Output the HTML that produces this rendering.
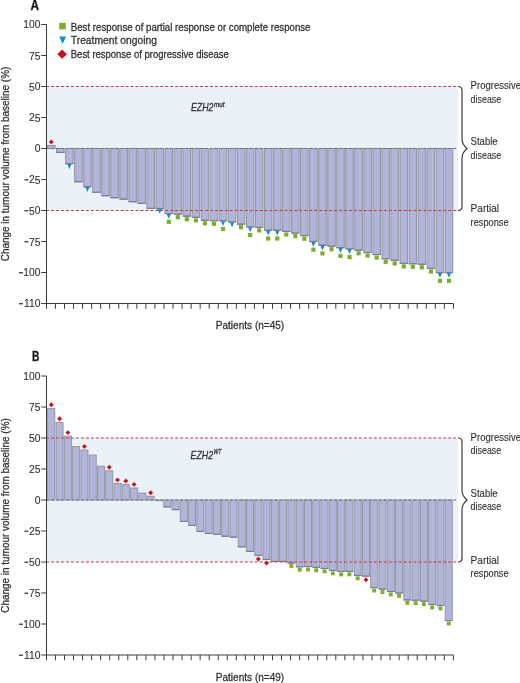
<!DOCTYPE html><html><head><meta charset="utf-8"><style>html,body{margin:0;padding:0;background:#fff;}svg{display:block;will-change:transform;} text{stroke:#303030;stroke-width:0.28px;} .nb{stroke:none;} .tk text{stroke-width:0.1px;}</style></head><body>
<svg width="520" height="683" viewBox="0 0 520 683" font-family='"Liberation Sans", sans-serif'>
<rect width="520" height="683" fill="#fff"/>
<rect x="47" y="86.5" width="410.8" height="124.0" fill="#eaf1f9"/>
<rect x="47.55" y="145.50" width="7.50" height="3.00" fill="#b1b5dc" stroke="#96969c" stroke-width="1.1"/>
<rect x="56.59" y="148.50" width="7.50" height="4.00" fill="#b1b5dc" stroke="#96969c" stroke-width="1.1"/>
<line x1="56.44" y1="152.40" x2="64.24" y2="152.40" stroke="#787b94" stroke-width="1.1"/>
<rect x="65.63" y="148.50" width="7.50" height="15.20" fill="#b1b5dc" stroke="#96969c" stroke-width="1.1"/>
<line x1="65.48" y1="163.60" x2="73.28" y2="163.60" stroke="#787b94" stroke-width="1.1"/>
<rect x="74.66" y="148.50" width="7.50" height="33.30" fill="#b1b5dc" stroke="#96969c" stroke-width="1.1"/>
<line x1="74.51" y1="181.70" x2="82.31" y2="181.70" stroke="#787b94" stroke-width="1.1"/>
<rect x="83.70" y="148.50" width="7.50" height="38.20" fill="#b1b5dc" stroke="#96969c" stroke-width="1.1"/>
<line x1="83.55" y1="186.60" x2="91.35" y2="186.60" stroke="#787b94" stroke-width="1.1"/>
<rect x="92.74" y="148.50" width="7.50" height="43.90" fill="#b1b5dc" stroke="#96969c" stroke-width="1.1"/>
<line x1="92.59" y1="192.30" x2="100.39" y2="192.30" stroke="#787b94" stroke-width="1.1"/>
<rect x="101.78" y="148.50" width="7.50" height="47.30" fill="#b1b5dc" stroke="#96969c" stroke-width="1.1"/>
<line x1="101.63" y1="195.70" x2="109.43" y2="195.70" stroke="#787b94" stroke-width="1.1"/>
<rect x="110.82" y="148.50" width="7.50" height="49.30" fill="#b1b5dc" stroke="#96969c" stroke-width="1.1"/>
<line x1="110.67" y1="197.70" x2="118.47" y2="197.70" stroke="#787b94" stroke-width="1.1"/>
<rect x="119.85" y="148.50" width="7.50" height="50.70" fill="#b1b5dc" stroke="#96969c" stroke-width="1.1"/>
<line x1="119.70" y1="199.10" x2="127.50" y2="199.10" stroke="#787b94" stroke-width="1.1"/>
<rect x="128.89" y="148.50" width="7.50" height="53.30" fill="#b1b5dc" stroke="#96969c" stroke-width="1.1"/>
<line x1="128.74" y1="201.70" x2="136.54" y2="201.70" stroke="#787b94" stroke-width="1.1"/>
<rect x="137.93" y="148.50" width="7.50" height="55.00" fill="#b1b5dc" stroke="#96969c" stroke-width="1.1"/>
<line x1="137.78" y1="203.40" x2="145.58" y2="203.40" stroke="#787b94" stroke-width="1.1"/>
<rect x="146.97" y="148.50" width="7.50" height="59.90" fill="#b1b5dc" stroke="#96969c" stroke-width="1.1"/>
<line x1="146.82" y1="208.30" x2="154.62" y2="208.30" stroke="#787b94" stroke-width="1.1"/>
<rect x="156.01" y="148.50" width="7.50" height="60.10" fill="#b1b5dc" stroke="#96969c" stroke-width="1.1"/>
<line x1="155.86" y1="208.50" x2="163.66" y2="208.50" stroke="#787b94" stroke-width="1.1"/>
<rect x="165.04" y="148.50" width="7.50" height="65.10" fill="#b1b5dc" stroke="#96969c" stroke-width="1.1"/>
<line x1="164.89" y1="213.50" x2="172.69" y2="213.50" stroke="#787b94" stroke-width="1.1"/>
<rect x="174.08" y="148.50" width="7.50" height="65.70" fill="#b1b5dc" stroke="#96969c" stroke-width="1.1"/>
<line x1="173.93" y1="214.10" x2="181.73" y2="214.10" stroke="#787b94" stroke-width="1.1"/>
<rect x="183.12" y="148.50" width="7.50" height="67.70" fill="#b1b5dc" stroke="#96969c" stroke-width="1.1"/>
<line x1="182.97" y1="216.10" x2="190.77" y2="216.10" stroke="#787b94" stroke-width="1.1"/>
<rect x="192.16" y="148.50" width="7.50" height="68.90" fill="#b1b5dc" stroke="#96969c" stroke-width="1.1"/>
<line x1="192.01" y1="217.30" x2="199.81" y2="217.30" stroke="#787b94" stroke-width="1.1"/>
<rect x="201.20" y="148.50" width="7.50" height="71.80" fill="#b1b5dc" stroke="#96969c" stroke-width="1.1"/>
<line x1="201.05" y1="220.20" x2="208.85" y2="220.20" stroke="#787b94" stroke-width="1.1"/>
<rect x="210.23" y="148.50" width="7.50" height="72.30" fill="#b1b5dc" stroke="#96969c" stroke-width="1.1"/>
<line x1="210.08" y1="220.70" x2="217.88" y2="220.70" stroke="#787b94" stroke-width="1.1"/>
<rect x="219.27" y="148.50" width="7.50" height="72.30" fill="#b1b5dc" stroke="#96969c" stroke-width="1.1"/>
<line x1="219.12" y1="220.70" x2="226.92" y2="220.70" stroke="#787b94" stroke-width="1.1"/>
<rect x="228.31" y="148.50" width="7.50" height="73.50" fill="#b1b5dc" stroke="#96969c" stroke-width="1.1"/>
<line x1="228.16" y1="221.90" x2="235.96" y2="221.90" stroke="#787b94" stroke-width="1.1"/>
<rect x="237.35" y="148.50" width="7.50" height="75.70" fill="#b1b5dc" stroke="#96969c" stroke-width="1.1"/>
<line x1="237.20" y1="224.10" x2="245.00" y2="224.10" stroke="#787b94" stroke-width="1.1"/>
<rect x="246.39" y="148.50" width="7.50" height="78.40" fill="#b1b5dc" stroke="#96969c" stroke-width="1.1"/>
<line x1="246.24" y1="226.80" x2="254.04" y2="226.80" stroke="#787b94" stroke-width="1.1"/>
<rect x="255.42" y="148.50" width="7.50" height="78.90" fill="#b1b5dc" stroke="#96969c" stroke-width="1.1"/>
<line x1="255.27" y1="227.30" x2="263.07" y2="227.30" stroke="#787b94" stroke-width="1.1"/>
<rect x="264.46" y="148.50" width="7.50" height="81.80" fill="#b1b5dc" stroke="#96969c" stroke-width="1.1"/>
<line x1="264.31" y1="230.20" x2="272.11" y2="230.20" stroke="#787b94" stroke-width="1.1"/>
<rect x="273.50" y="148.50" width="7.50" height="81.80" fill="#b1b5dc" stroke="#96969c" stroke-width="1.1"/>
<line x1="273.35" y1="230.20" x2="281.15" y2="230.20" stroke="#787b94" stroke-width="1.1"/>
<rect x="282.54" y="148.50" width="7.50" height="83.00" fill="#b1b5dc" stroke="#96969c" stroke-width="1.1"/>
<line x1="282.39" y1="231.40" x2="290.19" y2="231.40" stroke="#787b94" stroke-width="1.1"/>
<rect x="291.58" y="148.50" width="7.50" height="84.60" fill="#b1b5dc" stroke="#96969c" stroke-width="1.1"/>
<line x1="291.43" y1="233.00" x2="299.23" y2="233.00" stroke="#787b94" stroke-width="1.1"/>
<rect x="300.61" y="148.50" width="7.50" height="87.20" fill="#b1b5dc" stroke="#96969c" stroke-width="1.1"/>
<line x1="300.46" y1="235.60" x2="308.26" y2="235.60" stroke="#787b94" stroke-width="1.1"/>
<rect x="309.65" y="148.50" width="7.50" height="93.00" fill="#b1b5dc" stroke="#96969c" stroke-width="1.1"/>
<line x1="309.50" y1="241.40" x2="317.30" y2="241.40" stroke="#787b94" stroke-width="1.1"/>
<rect x="318.69" y="148.50" width="7.50" height="96.70" fill="#b1b5dc" stroke="#96969c" stroke-width="1.1"/>
<line x1="318.54" y1="245.10" x2="326.34" y2="245.10" stroke="#787b94" stroke-width="1.1"/>
<rect x="327.73" y="148.50" width="7.50" height="97.70" fill="#b1b5dc" stroke="#96969c" stroke-width="1.1"/>
<line x1="327.58" y1="246.10" x2="335.38" y2="246.10" stroke="#787b94" stroke-width="1.1"/>
<rect x="336.77" y="148.50" width="7.50" height="99.20" fill="#b1b5dc" stroke="#96969c" stroke-width="1.1"/>
<line x1="336.62" y1="247.60" x2="344.42" y2="247.60" stroke="#787b94" stroke-width="1.1"/>
<rect x="345.80" y="148.50" width="7.50" height="100.40" fill="#b1b5dc" stroke="#96969c" stroke-width="1.1"/>
<line x1="345.65" y1="248.80" x2="353.45" y2="248.80" stroke="#787b94" stroke-width="1.1"/>
<rect x="354.84" y="148.50" width="7.50" height="101.80" fill="#b1b5dc" stroke="#96969c" stroke-width="1.1"/>
<line x1="354.69" y1="250.20" x2="362.49" y2="250.20" stroke="#787b94" stroke-width="1.1"/>
<rect x="363.88" y="148.50" width="7.50" height="104.10" fill="#b1b5dc" stroke="#96969c" stroke-width="1.1"/>
<line x1="363.73" y1="252.50" x2="371.53" y2="252.50" stroke="#787b94" stroke-width="1.1"/>
<rect x="372.92" y="148.50" width="7.50" height="106.10" fill="#b1b5dc" stroke="#96969c" stroke-width="1.1"/>
<line x1="372.77" y1="254.50" x2="380.57" y2="254.50" stroke="#787b94" stroke-width="1.1"/>
<rect x="381.96" y="148.50" width="7.50" height="110.30" fill="#b1b5dc" stroke="#96969c" stroke-width="1.1"/>
<line x1="381.81" y1="258.70" x2="389.61" y2="258.70" stroke="#787b94" stroke-width="1.1"/>
<rect x="390.99" y="148.50" width="7.50" height="111.90" fill="#b1b5dc" stroke="#96969c" stroke-width="1.1"/>
<line x1="390.84" y1="260.30" x2="398.64" y2="260.30" stroke="#787b94" stroke-width="1.1"/>
<rect x="400.03" y="148.50" width="7.50" height="114.90" fill="#b1b5dc" stroke="#96969c" stroke-width="1.1"/>
<line x1="399.88" y1="263.30" x2="407.68" y2="263.30" stroke="#787b94" stroke-width="1.1"/>
<rect x="409.07" y="148.50" width="7.50" height="115.30" fill="#b1b5dc" stroke="#96969c" stroke-width="1.1"/>
<line x1="408.92" y1="263.70" x2="416.72" y2="263.70" stroke="#787b94" stroke-width="1.1"/>
<rect x="418.11" y="148.50" width="7.50" height="115.80" fill="#b1b5dc" stroke="#96969c" stroke-width="1.1"/>
<line x1="417.96" y1="264.20" x2="425.76" y2="264.20" stroke="#787b94" stroke-width="1.1"/>
<rect x="427.15" y="148.50" width="7.50" height="120.00" fill="#b1b5dc" stroke="#96969c" stroke-width="1.1"/>
<line x1="427.00" y1="268.40" x2="434.80" y2="268.40" stroke="#787b94" stroke-width="1.1"/>
<rect x="436.18" y="148.50" width="7.50" height="124.10" fill="#b1b5dc" stroke="#96969c" stroke-width="1.1"/>
<line x1="436.03" y1="272.50" x2="443.83" y2="272.50" stroke="#787b94" stroke-width="1.1"/>
<rect x="445.22" y="148.50" width="7.50" height="124.10" fill="#b1b5dc" stroke="#96969c" stroke-width="1.1"/>
<line x1="445.07" y1="272.50" x2="452.87" y2="272.50" stroke="#787b94" stroke-width="1.1"/>
<line x1="47" y1="86.5" x2="457" y2="86.5" stroke="#cf3139" stroke-width="1.0" stroke-dasharray="2.85 2.115" stroke-dashoffset="0.8"/>
<line x1="47" y1="210.5" x2="457" y2="210.5" stroke="#cf3139" stroke-width="1.0" stroke-dasharray="2.85 2.115" stroke-dashoffset="0.8"/>
<line x1="47" y1="148.5" x2="457" y2="148.5" stroke="#6a707c" stroke-width="1" stroke-dasharray="2.85 2.115" stroke-dashoffset="0.8"/>
<path d="M51.30 139.45L53.75 141.90L51.30 144.35L48.85 141.90Z" fill="#c8141c"/>
<path d="M67.18 164.10L71.58 164.10L69.38 168.90Z" fill="#168fc2"/>
<path d="M85.25 187.10L89.65 187.10L87.45 191.90Z" fill="#168fc2"/>
<path d="M157.56 209.00L161.96 209.00L159.76 213.80Z" fill="#168fc2"/>
<path d="M166.59 214.00L170.99 214.00L168.79 218.80Z" fill="#168fc2"/>
<rect x="166.69" y="219.70" width="4.2" height="4.2" fill="#7fae2b"/>
<rect x="175.73" y="215.10" width="4.2" height="4.2" fill="#7fae2b"/>
<rect x="184.77" y="217.10" width="4.2" height="4.2" fill="#7fae2b"/>
<rect x="193.81" y="218.30" width="4.2" height="4.2" fill="#7fae2b"/>
<rect x="202.85" y="221.20" width="4.2" height="4.2" fill="#7fae2b"/>
<rect x="211.88" y="221.70" width="4.2" height="4.2" fill="#7fae2b"/>
<path d="M220.82 221.20L225.22 221.20L223.02 226.00Z" fill="#168fc2"/>
<rect x="220.92" y="226.90" width="4.2" height="4.2" fill="#7fae2b"/>
<path d="M229.86 222.40L234.26 222.40L232.06 227.20Z" fill="#168fc2"/>
<rect x="239.00" y="225.10" width="4.2" height="4.2" fill="#7fae2b"/>
<path d="M247.94 227.30L252.34 227.30L250.14 232.10Z" fill="#168fc2"/>
<rect x="248.04" y="233.00" width="4.2" height="4.2" fill="#7fae2b"/>
<rect x="257.07" y="228.30" width="4.2" height="4.2" fill="#7fae2b"/>
<path d="M266.01 230.70L270.41 230.70L268.21 235.50Z" fill="#168fc2"/>
<rect x="266.11" y="236.40" width="4.2" height="4.2" fill="#7fae2b"/>
<path d="M275.05 230.70L279.45 230.70L277.25 235.50Z" fill="#168fc2"/>
<rect x="275.15" y="236.40" width="4.2" height="4.2" fill="#7fae2b"/>
<rect x="284.19" y="232.40" width="4.2" height="4.2" fill="#7fae2b"/>
<rect x="293.23" y="234.00" width="4.2" height="4.2" fill="#7fae2b"/>
<rect x="302.26" y="236.60" width="4.2" height="4.2" fill="#7fae2b"/>
<path d="M311.20 241.90L315.60 241.90L313.40 246.70Z" fill="#168fc2"/>
<rect x="311.30" y="247.60" width="4.2" height="4.2" fill="#7fae2b"/>
<path d="M320.24 245.60L324.64 245.60L322.44 250.40Z" fill="#168fc2"/>
<rect x="320.34" y="251.30" width="4.2" height="4.2" fill="#7fae2b"/>
<rect x="329.38" y="247.10" width="4.2" height="4.2" fill="#7fae2b"/>
<path d="M338.32 248.10L342.72 248.10L340.52 252.90Z" fill="#168fc2"/>
<rect x="338.42" y="253.80" width="4.2" height="4.2" fill="#7fae2b"/>
<path d="M347.35 249.30L351.75 249.30L349.55 254.10Z" fill="#168fc2"/>
<rect x="347.45" y="255.00" width="4.2" height="4.2" fill="#7fae2b"/>
<rect x="356.49" y="251.20" width="4.2" height="4.2" fill="#7fae2b"/>
<rect x="365.53" y="253.50" width="4.2" height="4.2" fill="#7fae2b"/>
<rect x="374.57" y="255.50" width="4.2" height="4.2" fill="#7fae2b"/>
<rect x="383.61" y="259.70" width="4.2" height="4.2" fill="#7fae2b"/>
<rect x="392.64" y="261.30" width="4.2" height="4.2" fill="#7fae2b"/>
<rect x="401.68" y="264.30" width="4.2" height="4.2" fill="#7fae2b"/>
<rect x="410.72" y="264.70" width="4.2" height="4.2" fill="#7fae2b"/>
<rect x="419.76" y="265.20" width="4.2" height="4.2" fill="#7fae2b"/>
<rect x="428.80" y="269.40" width="4.2" height="4.2" fill="#7fae2b"/>
<path d="M437.73 273.00L442.13 273.00L439.93 277.80Z" fill="#168fc2"/>
<rect x="437.83" y="278.70" width="4.2" height="4.2" fill="#7fae2b"/>
<path d="M446.77 273.00L451.17 273.00L448.97 277.80Z" fill="#168fc2"/>
<rect x="446.87" y="278.70" width="4.2" height="4.2" fill="#7fae2b"/>
<path d="M41.2 24.5H46.5V308.8" fill="none" stroke="#3c3c3c" stroke-width="1"/>
<line x1="41.2" y1="55.5" x2="46.5" y2="55.5" stroke="#3c3c3c" stroke-width="1"/>
<line x1="41.2" y1="86.5" x2="46.5" y2="86.5" stroke="#3c3c3c" stroke-width="1"/>
<line x1="41.2" y1="117.5" x2="46.5" y2="117.5" stroke="#3c3c3c" stroke-width="1"/>
<line x1="41.2" y1="148.5" x2="46.5" y2="148.5" stroke="#3c3c3c" stroke-width="1"/>
<line x1="41.2" y1="179.5" x2="46.5" y2="179.5" stroke="#3c3c3c" stroke-width="1"/>
<line x1="41.2" y1="210.5" x2="46.5" y2="210.5" stroke="#3c3c3c" stroke-width="1"/>
<line x1="41.2" y1="241.5" x2="46.5" y2="241.5" stroke="#3c3c3c" stroke-width="1"/>
<line x1="41.2" y1="272.5" x2="46.5" y2="272.5" stroke="#3c3c3c" stroke-width="1"/>
<line x1="41.2" y1="303.5" x2="46.5" y2="303.5" stroke="#3c3c3c" stroke-width="1"/>
<line x1="46.5" y1="303.5" x2="453.4" y2="303.5" stroke="#3c3c3c" stroke-width="1"/>
<line x1="55.44" y1="303.5" x2="55.44" y2="308.8" stroke="#3c3c3c" stroke-width="1"/>
<line x1="64.49" y1="303.5" x2="64.49" y2="308.8" stroke="#3c3c3c" stroke-width="1"/>
<line x1="73.53" y1="303.5" x2="73.53" y2="308.8" stroke="#3c3c3c" stroke-width="1"/>
<line x1="82.58" y1="303.5" x2="82.58" y2="308.8" stroke="#3c3c3c" stroke-width="1"/>
<line x1="91.62" y1="303.5" x2="91.62" y2="308.8" stroke="#3c3c3c" stroke-width="1"/>
<line x1="100.66" y1="303.5" x2="100.66" y2="308.8" stroke="#3c3c3c" stroke-width="1"/>
<line x1="109.71" y1="303.5" x2="109.71" y2="308.8" stroke="#3c3c3c" stroke-width="1"/>
<line x1="118.75" y1="303.5" x2="118.75" y2="308.8" stroke="#3c3c3c" stroke-width="1"/>
<line x1="127.80" y1="303.5" x2="127.80" y2="308.8" stroke="#3c3c3c" stroke-width="1"/>
<line x1="136.84" y1="303.5" x2="136.84" y2="308.8" stroke="#3c3c3c" stroke-width="1"/>
<line x1="145.88" y1="303.5" x2="145.88" y2="308.8" stroke="#3c3c3c" stroke-width="1"/>
<line x1="154.93" y1="303.5" x2="154.93" y2="308.8" stroke="#3c3c3c" stroke-width="1"/>
<line x1="163.97" y1="303.5" x2="163.97" y2="308.8" stroke="#3c3c3c" stroke-width="1"/>
<line x1="173.02" y1="303.5" x2="173.02" y2="308.8" stroke="#3c3c3c" stroke-width="1"/>
<line x1="182.06" y1="303.5" x2="182.06" y2="308.8" stroke="#3c3c3c" stroke-width="1"/>
<line x1="191.10" y1="303.5" x2="191.10" y2="308.8" stroke="#3c3c3c" stroke-width="1"/>
<line x1="200.15" y1="303.5" x2="200.15" y2="308.8" stroke="#3c3c3c" stroke-width="1"/>
<line x1="209.19" y1="303.5" x2="209.19" y2="308.8" stroke="#3c3c3c" stroke-width="1"/>
<line x1="218.24" y1="303.5" x2="218.24" y2="308.8" stroke="#3c3c3c" stroke-width="1"/>
<line x1="227.28" y1="303.5" x2="227.28" y2="308.8" stroke="#3c3c3c" stroke-width="1"/>
<line x1="236.32" y1="303.5" x2="236.32" y2="308.8" stroke="#3c3c3c" stroke-width="1"/>
<line x1="245.37" y1="303.5" x2="245.37" y2="308.8" stroke="#3c3c3c" stroke-width="1"/>
<line x1="254.41" y1="303.5" x2="254.41" y2="308.8" stroke="#3c3c3c" stroke-width="1"/>
<line x1="263.46" y1="303.5" x2="263.46" y2="308.8" stroke="#3c3c3c" stroke-width="1"/>
<line x1="272.50" y1="303.5" x2="272.50" y2="308.8" stroke="#3c3c3c" stroke-width="1"/>
<line x1="281.54" y1="303.5" x2="281.54" y2="308.8" stroke="#3c3c3c" stroke-width="1"/>
<line x1="290.59" y1="303.5" x2="290.59" y2="308.8" stroke="#3c3c3c" stroke-width="1"/>
<line x1="299.63" y1="303.5" x2="299.63" y2="308.8" stroke="#3c3c3c" stroke-width="1"/>
<line x1="308.68" y1="303.5" x2="308.68" y2="308.8" stroke="#3c3c3c" stroke-width="1"/>
<line x1="317.72" y1="303.5" x2="317.72" y2="308.8" stroke="#3c3c3c" stroke-width="1"/>
<line x1="326.76" y1="303.5" x2="326.76" y2="308.8" stroke="#3c3c3c" stroke-width="1"/>
<line x1="335.81" y1="303.5" x2="335.81" y2="308.8" stroke="#3c3c3c" stroke-width="1"/>
<line x1="344.85" y1="303.5" x2="344.85" y2="308.8" stroke="#3c3c3c" stroke-width="1"/>
<line x1="353.90" y1="303.5" x2="353.90" y2="308.8" stroke="#3c3c3c" stroke-width="1"/>
<line x1="362.94" y1="303.5" x2="362.94" y2="308.8" stroke="#3c3c3c" stroke-width="1"/>
<line x1="371.98" y1="303.5" x2="371.98" y2="308.8" stroke="#3c3c3c" stroke-width="1"/>
<line x1="381.03" y1="303.5" x2="381.03" y2="308.8" stroke="#3c3c3c" stroke-width="1"/>
<line x1="390.07" y1="303.5" x2="390.07" y2="308.8" stroke="#3c3c3c" stroke-width="1"/>
<line x1="399.12" y1="303.5" x2="399.12" y2="308.8" stroke="#3c3c3c" stroke-width="1"/>
<line x1="408.16" y1="303.5" x2="408.16" y2="308.8" stroke="#3c3c3c" stroke-width="1"/>
<line x1="417.20" y1="303.5" x2="417.20" y2="308.8" stroke="#3c3c3c" stroke-width="1"/>
<line x1="426.25" y1="303.5" x2="426.25" y2="308.8" stroke="#3c3c3c" stroke-width="1"/>
<line x1="435.29" y1="303.5" x2="435.29" y2="308.8" stroke="#3c3c3c" stroke-width="1"/>
<line x1="444.34" y1="303.5" x2="444.34" y2="308.8" stroke="#3c3c3c" stroke-width="1"/>
<line x1="453.38" y1="303.5" x2="453.38" y2="308.8" stroke="#3c3c3c" stroke-width="1"/>
<g fill="#303030" font-size="10.3" text-anchor="end" class="tk">
<text x="40.4" y="28.00">100</text>
<text x="40.4" y="59.00"><tspan dy="0.7">7</tspan>5</text>
<text x="40.4" y="90.00"><tspan dy="0.7">5</tspan><tspan dy="-0.7">0</tspan></text>
<text x="40.4" y="121.00">2<tspan dy="0.7">5</tspan></text>
<text x="40.4" y="152.00">0</text>
<text x="40.4" y="183.00">2<tspan dy="0.7">5</tspan></text>
<rect x="24.41" y="179.10" width="3.9" height="1.25" fill="#303030"/>
<text x="40.4" y="214.00"><tspan dy="0.7">5</tspan><tspan dy="-0.7">0</tspan></text>
<rect x="24.41" y="210.10" width="3.9" height="1.25" fill="#303030"/>
<text x="40.4" y="245.00"><tspan dy="0.7">7</tspan>5</text>
<rect x="24.41" y="241.10" width="3.9" height="1.25" fill="#303030"/>
<text x="40.4" y="276.00">100</text>
<rect x="19.00" y="272.10" width="3.9" height="1.25" fill="#303030"/>
<text x="40.4" y="307.00">110</text>
<rect x="19.00" y="303.10" width="3.9" height="1.25" fill="#303030"/>
</g>
<text transform="translate(9.3 164.00) rotate(-90)" text-anchor="middle" font-size="10.8" fill="#303030" textLength="194.6" lengthAdjust="spacingAndGlyphs">Change in tumour volume from baseline (%)</text>
<text x="30.6" y="9.60" font-size="13.8" font-weight="bold" fill="#111" stroke="#111" style="stroke-width:0.35px" textLength="8.6" lengthAdjust="spacingAndGlyphs">A</text>
<text x="191" y="111.00" font-size="10.6" font-style="italic" fill="#303030" textLength="22.5" lengthAdjust="spacingAndGlyphs">EZH2</text>
<text x="214" y="106.70" font-size="7" font-style="italic" fill="#303030" textLength="10.4" lengthAdjust="spacingAndGlyphs">mut</text>
<text x="470.6" y="89.40" font-size="10.2" fill="#303030" style="stroke-width:0.12px" textLength="50.5" lengthAdjust="spacingAndGlyphs">Progressive</text>
<text x="470.6" y="102.80" font-size="10.2" fill="#303030" style="stroke-width:0.12px" textLength="30.6" lengthAdjust="spacingAndGlyphs">disease</text>
<text x="470.6" y="145.10" font-size="10.2" fill="#303030" style="stroke-width:0.12px" textLength="27" lengthAdjust="spacingAndGlyphs">Stable</text>
<text x="470.6" y="158.50" font-size="10.2" fill="#303030" style="stroke-width:0.12px" textLength="30.6" lengthAdjust="spacingAndGlyphs">disease</text>
<text x="470.6" y="212.20" font-size="10.2" fill="#303030" style="stroke-width:0.12px" textLength="28.5" lengthAdjust="spacingAndGlyphs">Partial</text>
<text x="470.6" y="225.90" font-size="10.2" fill="#303030" style="stroke-width:0.12px" textLength="38" lengthAdjust="spacingAndGlyphs">response</text>
<path d="M458 86.5C460.5 86.5 462 87.5 462 90.5V138.5C462 143.5 464 145.5 467 148.5C464 151.5 462 153.5 462 158.5V206.5C462 209.5 460.5 210.5 458 210.5" fill="none" stroke="#3c3c3c" stroke-width="1.2"/>
<text x="215.8" y="329.20" font-size="10.9" fill="#303030" textLength="68.4" lengthAdjust="spacingAndGlyphs">Patients (n=45)</text>
<rect x="47" y="438.0" width="410.8" height="124.0" fill="#eaf1f9"/>
<rect x="47.30" y="408.40" width="7.50" height="91.60" fill="#b1b5dc" stroke="#96969c" stroke-width="1.0"/>
<rect x="56.08" y="422.40" width="7.00" height="77.60" fill="#b1b5dc" stroke="#96969c" stroke-width="1.0"/>
<rect x="64.36" y="436.20" width="7.00" height="63.80" fill="#b1b5dc" stroke="#96969c" stroke-width="1.0"/>
<rect x="72.64" y="446.50" width="7.00" height="53.50" fill="#b1b5dc" stroke="#96969c" stroke-width="1.0"/>
<rect x="80.92" y="450.00" width="7.00" height="50.00" fill="#b1b5dc" stroke="#96969c" stroke-width="1.0"/>
<rect x="89.20" y="455.10" width="7.00" height="44.90" fill="#b1b5dc" stroke="#96969c" stroke-width="1.0"/>
<rect x="97.48" y="466.20" width="7.00" height="33.80" fill="#b1b5dc" stroke="#96969c" stroke-width="1.0"/>
<rect x="105.76" y="470.80" width="7.00" height="29.20" fill="#b1b5dc" stroke="#96969c" stroke-width="1.0"/>
<rect x="114.04" y="483.50" width="7.00" height="16.50" fill="#b1b5dc" stroke="#96969c" stroke-width="1.0"/>
<rect x="122.32" y="484.60" width="7.00" height="15.40" fill="#b1b5dc" stroke="#96969c" stroke-width="1.0"/>
<rect x="130.60" y="488.00" width="7.00" height="12.00" fill="#b1b5dc" stroke="#96969c" stroke-width="1.0"/>
<rect x="138.88" y="493.10" width="7.00" height="6.90" fill="#b1b5dc" stroke="#96969c" stroke-width="1.0"/>
<rect x="147.16" y="496.30" width="7.00" height="3.70" fill="#b1b5dc" stroke="#96969c" stroke-width="1.0"/>
<rect x="155.44" y="500.00" width="7.00" height="0.60" fill="#b1b5dc" stroke="#96969c" stroke-width="1.0"/>
<rect x="163.72" y="500.00" width="7.00" height="6.90" fill="#b1b5dc" stroke="#96969c" stroke-width="1.0"/>
<line x1="163.62" y1="506.80" x2="170.82" y2="506.80" stroke="#787b94" stroke-width="1.1"/>
<rect x="172.00" y="500.00" width="7.00" height="9.70" fill="#b1b5dc" stroke="#96969c" stroke-width="1.0"/>
<line x1="171.90" y1="509.60" x2="179.10" y2="509.60" stroke="#787b94" stroke-width="1.1"/>
<rect x="180.28" y="500.00" width="7.00" height="21.50" fill="#b1b5dc" stroke="#96969c" stroke-width="1.0"/>
<line x1="180.18" y1="521.40" x2="187.38" y2="521.40" stroke="#787b94" stroke-width="1.1"/>
<rect x="188.56" y="500.00" width="7.00" height="25.40" fill="#b1b5dc" stroke="#96969c" stroke-width="1.0"/>
<line x1="188.46" y1="525.30" x2="195.66" y2="525.30" stroke="#787b94" stroke-width="1.1"/>
<rect x="196.84" y="500.00" width="7.00" height="31.50" fill="#b1b5dc" stroke="#96969c" stroke-width="1.0"/>
<line x1="196.74" y1="531.40" x2="203.94" y2="531.40" stroke="#787b94" stroke-width="1.1"/>
<rect x="205.12" y="500.00" width="7.00" height="33.50" fill="#b1b5dc" stroke="#96969c" stroke-width="1.0"/>
<line x1="205.02" y1="533.40" x2="212.22" y2="533.40" stroke="#787b94" stroke-width="1.1"/>
<rect x="213.40" y="500.00" width="7.00" height="34.30" fill="#b1b5dc" stroke="#96969c" stroke-width="1.0"/>
<line x1="213.30" y1="534.20" x2="220.50" y2="534.20" stroke="#787b94" stroke-width="1.1"/>
<rect x="221.68" y="500.00" width="7.00" height="36.30" fill="#b1b5dc" stroke="#96969c" stroke-width="1.0"/>
<line x1="221.58" y1="536.20" x2="228.78" y2="536.20" stroke="#787b94" stroke-width="1.1"/>
<rect x="229.96" y="500.00" width="7.00" height="37.20" fill="#b1b5dc" stroke="#96969c" stroke-width="1.0"/>
<line x1="229.86" y1="537.10" x2="237.06" y2="537.10" stroke="#787b94" stroke-width="1.1"/>
<rect x="238.24" y="500.00" width="7.00" height="46.90" fill="#b1b5dc" stroke="#96969c" stroke-width="1.0"/>
<line x1="238.14" y1="546.80" x2="245.34" y2="546.80" stroke="#787b94" stroke-width="1.1"/>
<rect x="246.52" y="500.00" width="7.00" height="51.50" fill="#b1b5dc" stroke="#96969c" stroke-width="1.0"/>
<line x1="246.42" y1="551.40" x2="253.62" y2="551.40" stroke="#787b94" stroke-width="1.1"/>
<rect x="254.80" y="500.00" width="7.00" height="55.40" fill="#b1b5dc" stroke="#96969c" stroke-width="1.0"/>
<line x1="254.70" y1="555.30" x2="261.90" y2="555.30" stroke="#787b94" stroke-width="1.1"/>
<rect x="263.08" y="500.00" width="7.00" height="59.50" fill="#b1b5dc" stroke="#96969c" stroke-width="1.0"/>
<line x1="262.98" y1="559.40" x2="270.18" y2="559.40" stroke="#787b94" stroke-width="1.1"/>
<rect x="271.36" y="500.00" width="7.00" height="61.50" fill="#b1b5dc" stroke="#96969c" stroke-width="1.0"/>
<line x1="271.26" y1="561.40" x2="278.46" y2="561.40" stroke="#787b94" stroke-width="1.1"/>
<rect x="279.64" y="500.00" width="7.00" height="61.50" fill="#b1b5dc" stroke="#96969c" stroke-width="1.0"/>
<line x1="279.54" y1="561.40" x2="286.74" y2="561.40" stroke="#787b94" stroke-width="1.1"/>
<rect x="287.92" y="500.00" width="7.00" height="63.10" fill="#b1b5dc" stroke="#96969c" stroke-width="1.0"/>
<line x1="287.82" y1="563.00" x2="295.02" y2="563.00" stroke="#787b94" stroke-width="1.1"/>
<rect x="296.20" y="500.00" width="7.00" height="66.90" fill="#b1b5dc" stroke="#96969c" stroke-width="1.0"/>
<line x1="296.10" y1="566.80" x2="303.30" y2="566.80" stroke="#787b94" stroke-width="1.1"/>
<rect x="304.48" y="500.00" width="7.00" height="66.60" fill="#b1b5dc" stroke="#96969c" stroke-width="1.0"/>
<line x1="304.38" y1="566.50" x2="311.58" y2="566.50" stroke="#787b94" stroke-width="1.1"/>
<rect x="312.76" y="500.00" width="7.00" height="67.40" fill="#b1b5dc" stroke="#96969c" stroke-width="1.0"/>
<line x1="312.66" y1="567.30" x2="319.86" y2="567.30" stroke="#787b94" stroke-width="1.1"/>
<rect x="321.04" y="500.00" width="7.00" height="68.50" fill="#b1b5dc" stroke="#96969c" stroke-width="1.0"/>
<line x1="320.94" y1="568.40" x2="328.14" y2="568.40" stroke="#787b94" stroke-width="1.1"/>
<rect x="329.32" y="500.00" width="7.00" height="70.50" fill="#b1b5dc" stroke="#96969c" stroke-width="1.0"/>
<line x1="329.22" y1="570.40" x2="336.42" y2="570.40" stroke="#787b94" stroke-width="1.1"/>
<rect x="337.60" y="500.00" width="7.00" height="71.50" fill="#b1b5dc" stroke="#96969c" stroke-width="1.0"/>
<line x1="337.50" y1="571.40" x2="344.70" y2="571.40" stroke="#787b94" stroke-width="1.1"/>
<rect x="345.88" y="500.00" width="7.00" height="71.50" fill="#b1b5dc" stroke="#96969c" stroke-width="1.0"/>
<line x1="345.78" y1="571.40" x2="352.98" y2="571.40" stroke="#787b94" stroke-width="1.1"/>
<rect x="354.16" y="500.00" width="7.00" height="75.40" fill="#b1b5dc" stroke="#96969c" stroke-width="1.0"/>
<line x1="354.06" y1="575.30" x2="361.26" y2="575.30" stroke="#787b94" stroke-width="1.1"/>
<rect x="362.44" y="500.00" width="7.00" height="76.20" fill="#b1b5dc" stroke="#96969c" stroke-width="1.0"/>
<line x1="362.34" y1="576.10" x2="369.54" y2="576.10" stroke="#787b94" stroke-width="1.1"/>
<rect x="370.72" y="500.00" width="7.00" height="87.70" fill="#b1b5dc" stroke="#96969c" stroke-width="1.0"/>
<line x1="370.62" y1="587.60" x2="377.82" y2="587.60" stroke="#787b94" stroke-width="1.1"/>
<rect x="379.00" y="500.00" width="7.00" height="89.20" fill="#b1b5dc" stroke="#96969c" stroke-width="1.0"/>
<line x1="378.90" y1="589.10" x2="386.10" y2="589.10" stroke="#787b94" stroke-width="1.1"/>
<rect x="387.28" y="500.00" width="7.00" height="91.50" fill="#b1b5dc" stroke="#96969c" stroke-width="1.0"/>
<line x1="387.18" y1="591.40" x2="394.38" y2="591.40" stroke="#787b94" stroke-width="1.1"/>
<rect x="395.56" y="500.00" width="7.00" height="93.10" fill="#b1b5dc" stroke="#96969c" stroke-width="1.0"/>
<line x1="395.46" y1="593.00" x2="402.66" y2="593.00" stroke="#787b94" stroke-width="1.1"/>
<rect x="403.84" y="500.00" width="7.00" height="100.00" fill="#b1b5dc" stroke="#96969c" stroke-width="1.0"/>
<line x1="403.74" y1="599.90" x2="410.94" y2="599.90" stroke="#787b94" stroke-width="1.1"/>
<rect x="412.12" y="500.00" width="7.00" height="100.30" fill="#b1b5dc" stroke="#96969c" stroke-width="1.0"/>
<line x1="412.02" y1="600.20" x2="419.22" y2="600.20" stroke="#787b94" stroke-width="1.1"/>
<rect x="420.40" y="500.00" width="7.00" height="101.20" fill="#b1b5dc" stroke="#96969c" stroke-width="1.0"/>
<line x1="420.30" y1="601.10" x2="427.50" y2="601.10" stroke="#787b94" stroke-width="1.1"/>
<rect x="428.68" y="500.00" width="7.00" height="104.60" fill="#b1b5dc" stroke="#96969c" stroke-width="1.0"/>
<line x1="428.58" y1="604.50" x2="435.78" y2="604.50" stroke="#787b94" stroke-width="1.1"/>
<rect x="436.96" y="500.00" width="7.00" height="105.60" fill="#b1b5dc" stroke="#96969c" stroke-width="1.0"/>
<line x1="436.86" y1="605.50" x2="444.06" y2="605.50" stroke="#787b94" stroke-width="1.1"/>
<rect x="445.24" y="500.00" width="7.00" height="120.60" fill="#b1b5dc" stroke="#96969c" stroke-width="1.0"/>
<line x1="445.14" y1="620.50" x2="452.34" y2="620.50" stroke="#787b94" stroke-width="1.1"/>
<line x1="47" y1="438.0" x2="457" y2="438.0" stroke="#cf3139" stroke-width="1.2" stroke-dasharray="2.85 2.115" stroke-dashoffset="0.8"/>
<line x1="47" y1="562.0" x2="457" y2="562.0" stroke="#cf3139" stroke-width="1.2" stroke-dasharray="2.85 2.115" stroke-dashoffset="0.8"/>
<line x1="47" y1="500.0" x2="457" y2="500.0" stroke="#6a707c" stroke-width="1" stroke-dasharray="2.85 2.115" stroke-dashoffset="0.8"/>
<path d="M51.30 402.35L53.75 404.80L51.30 407.25L48.85 404.80Z" fill="#c8141c"/>
<path d="M59.58 416.35L62.03 418.80L59.58 421.25L57.13 418.80Z" fill="#c8141c"/>
<path d="M67.86 430.15L70.31 432.60L67.86 435.05L65.41 432.60Z" fill="#c8141c"/>
<path d="M84.42 443.95L86.87 446.40L84.42 448.85L81.97 446.40Z" fill="#c8141c"/>
<path d="M109.26 464.75L111.71 467.20L109.26 469.65L106.81 467.20Z" fill="#c8141c"/>
<path d="M117.54 477.45L119.99 479.90L117.54 482.35L115.09 479.90Z" fill="#c8141c"/>
<path d="M125.82 478.55L128.27 481.00L125.82 483.45L123.37 481.00Z" fill="#c8141c"/>
<path d="M134.10 481.95L136.55 484.40L134.10 486.85L131.65 484.40Z" fill="#c8141c"/>
<path d="M150.66 490.25L153.11 492.70L150.66 495.15L148.21 492.70Z" fill="#c8141c"/>
<path d="M258.30 556.55L260.75 559.00L258.30 561.45L255.85 559.00Z" fill="#c8141c"/>
<path d="M266.58 560.65L269.03 563.10L266.58 565.55L264.13 563.10Z" fill="#c8141c"/>
<rect x="289.47" y="564.00" width="3.9" height="3.9" fill="#7fae2b"/>
<rect x="297.75" y="567.80" width="3.9" height="3.9" fill="#7fae2b"/>
<rect x="306.03" y="567.50" width="3.9" height="3.9" fill="#7fae2b"/>
<rect x="314.31" y="568.30" width="3.9" height="3.9" fill="#7fae2b"/>
<rect x="322.59" y="569.40" width="3.9" height="3.9" fill="#7fae2b"/>
<rect x="330.87" y="571.40" width="3.9" height="3.9" fill="#7fae2b"/>
<rect x="339.15" y="572.40" width="3.9" height="3.9" fill="#7fae2b"/>
<rect x="347.43" y="572.40" width="3.9" height="3.9" fill="#7fae2b"/>
<rect x="355.71" y="576.30" width="3.9" height="3.9" fill="#7fae2b"/>
<path d="M365.94 577.35L368.39 579.80L365.94 582.25L363.49 579.80Z" fill="#c8141c"/>
<rect x="372.27" y="588.60" width="3.9" height="3.9" fill="#7fae2b"/>
<rect x="380.55" y="590.10" width="3.9" height="3.9" fill="#7fae2b"/>
<rect x="388.83" y="592.40" width="3.9" height="3.9" fill="#7fae2b"/>
<rect x="397.11" y="594.00" width="3.9" height="3.9" fill="#7fae2b"/>
<rect x="405.39" y="600.90" width="3.9" height="3.9" fill="#7fae2b"/>
<rect x="413.67" y="601.20" width="3.9" height="3.9" fill="#7fae2b"/>
<rect x="421.95" y="602.10" width="3.9" height="3.9" fill="#7fae2b"/>
<rect x="430.23" y="605.50" width="3.9" height="3.9" fill="#7fae2b"/>
<rect x="438.51" y="606.50" width="3.9" height="3.9" fill="#7fae2b"/>
<rect x="446.79" y="621.50" width="3.9" height="3.9" fill="#7fae2b"/>
<path d="M41.2 376.0H46.5V660.3" fill="none" stroke="#3c3c3c" stroke-width="1"/>
<line x1="41.2" y1="407.0" x2="46.5" y2="407.0" stroke="#3c3c3c" stroke-width="1"/>
<line x1="41.2" y1="438.0" x2="46.5" y2="438.0" stroke="#3c3c3c" stroke-width="1"/>
<line x1="41.2" y1="469.0" x2="46.5" y2="469.0" stroke="#3c3c3c" stroke-width="1"/>
<line x1="41.2" y1="500.0" x2="46.5" y2="500.0" stroke="#3c3c3c" stroke-width="1"/>
<line x1="41.2" y1="531.0" x2="46.5" y2="531.0" stroke="#3c3c3c" stroke-width="1"/>
<line x1="41.2" y1="562.0" x2="46.5" y2="562.0" stroke="#3c3c3c" stroke-width="1"/>
<line x1="41.2" y1="593.0" x2="46.5" y2="593.0" stroke="#3c3c3c" stroke-width="1"/>
<line x1="41.2" y1="624.0" x2="46.5" y2="624.0" stroke="#3c3c3c" stroke-width="1"/>
<line x1="41.2" y1="655.0" x2="46.5" y2="655.0" stroke="#3c3c3c" stroke-width="1"/>
<line x1="46.5" y1="655.0" x2="453.4" y2="655.0" stroke="#3c3c3c" stroke-width="1"/>
<line x1="55.44" y1="655.0" x2="55.44" y2="660.3" stroke="#3c3c3c" stroke-width="1"/>
<line x1="64.49" y1="655.0" x2="64.49" y2="660.3" stroke="#3c3c3c" stroke-width="1"/>
<line x1="73.53" y1="655.0" x2="73.53" y2="660.3" stroke="#3c3c3c" stroke-width="1"/>
<line x1="82.58" y1="655.0" x2="82.58" y2="660.3" stroke="#3c3c3c" stroke-width="1"/>
<line x1="91.62" y1="655.0" x2="91.62" y2="660.3" stroke="#3c3c3c" stroke-width="1"/>
<line x1="100.66" y1="655.0" x2="100.66" y2="660.3" stroke="#3c3c3c" stroke-width="1"/>
<line x1="109.71" y1="655.0" x2="109.71" y2="660.3" stroke="#3c3c3c" stroke-width="1"/>
<line x1="118.75" y1="655.0" x2="118.75" y2="660.3" stroke="#3c3c3c" stroke-width="1"/>
<line x1="127.80" y1="655.0" x2="127.80" y2="660.3" stroke="#3c3c3c" stroke-width="1"/>
<line x1="136.84" y1="655.0" x2="136.84" y2="660.3" stroke="#3c3c3c" stroke-width="1"/>
<line x1="145.88" y1="655.0" x2="145.88" y2="660.3" stroke="#3c3c3c" stroke-width="1"/>
<line x1="154.93" y1="655.0" x2="154.93" y2="660.3" stroke="#3c3c3c" stroke-width="1"/>
<line x1="163.97" y1="655.0" x2="163.97" y2="660.3" stroke="#3c3c3c" stroke-width="1"/>
<line x1="173.02" y1="655.0" x2="173.02" y2="660.3" stroke="#3c3c3c" stroke-width="1"/>
<line x1="182.06" y1="655.0" x2="182.06" y2="660.3" stroke="#3c3c3c" stroke-width="1"/>
<line x1="191.10" y1="655.0" x2="191.10" y2="660.3" stroke="#3c3c3c" stroke-width="1"/>
<line x1="200.15" y1="655.0" x2="200.15" y2="660.3" stroke="#3c3c3c" stroke-width="1"/>
<line x1="209.19" y1="655.0" x2="209.19" y2="660.3" stroke="#3c3c3c" stroke-width="1"/>
<line x1="218.24" y1="655.0" x2="218.24" y2="660.3" stroke="#3c3c3c" stroke-width="1"/>
<line x1="227.28" y1="655.0" x2="227.28" y2="660.3" stroke="#3c3c3c" stroke-width="1"/>
<line x1="236.32" y1="655.0" x2="236.32" y2="660.3" stroke="#3c3c3c" stroke-width="1"/>
<line x1="245.37" y1="655.0" x2="245.37" y2="660.3" stroke="#3c3c3c" stroke-width="1"/>
<line x1="254.41" y1="655.0" x2="254.41" y2="660.3" stroke="#3c3c3c" stroke-width="1"/>
<line x1="263.46" y1="655.0" x2="263.46" y2="660.3" stroke="#3c3c3c" stroke-width="1"/>
<line x1="272.50" y1="655.0" x2="272.50" y2="660.3" stroke="#3c3c3c" stroke-width="1"/>
<line x1="281.54" y1="655.0" x2="281.54" y2="660.3" stroke="#3c3c3c" stroke-width="1"/>
<line x1="290.59" y1="655.0" x2="290.59" y2="660.3" stroke="#3c3c3c" stroke-width="1"/>
<line x1="299.63" y1="655.0" x2="299.63" y2="660.3" stroke="#3c3c3c" stroke-width="1"/>
<line x1="308.68" y1="655.0" x2="308.68" y2="660.3" stroke="#3c3c3c" stroke-width="1"/>
<line x1="317.72" y1="655.0" x2="317.72" y2="660.3" stroke="#3c3c3c" stroke-width="1"/>
<line x1="326.76" y1="655.0" x2="326.76" y2="660.3" stroke="#3c3c3c" stroke-width="1"/>
<line x1="335.81" y1="655.0" x2="335.81" y2="660.3" stroke="#3c3c3c" stroke-width="1"/>
<line x1="344.85" y1="655.0" x2="344.85" y2="660.3" stroke="#3c3c3c" stroke-width="1"/>
<line x1="353.90" y1="655.0" x2="353.90" y2="660.3" stroke="#3c3c3c" stroke-width="1"/>
<line x1="362.94" y1="655.0" x2="362.94" y2="660.3" stroke="#3c3c3c" stroke-width="1"/>
<line x1="371.98" y1="655.0" x2="371.98" y2="660.3" stroke="#3c3c3c" stroke-width="1"/>
<line x1="381.03" y1="655.0" x2="381.03" y2="660.3" stroke="#3c3c3c" stroke-width="1"/>
<line x1="390.07" y1="655.0" x2="390.07" y2="660.3" stroke="#3c3c3c" stroke-width="1"/>
<line x1="399.12" y1="655.0" x2="399.12" y2="660.3" stroke="#3c3c3c" stroke-width="1"/>
<line x1="408.16" y1="655.0" x2="408.16" y2="660.3" stroke="#3c3c3c" stroke-width="1"/>
<line x1="417.20" y1="655.0" x2="417.20" y2="660.3" stroke="#3c3c3c" stroke-width="1"/>
<line x1="426.25" y1="655.0" x2="426.25" y2="660.3" stroke="#3c3c3c" stroke-width="1"/>
<line x1="435.29" y1="655.0" x2="435.29" y2="660.3" stroke="#3c3c3c" stroke-width="1"/>
<line x1="444.34" y1="655.0" x2="444.34" y2="660.3" stroke="#3c3c3c" stroke-width="1"/>
<line x1="453.38" y1="655.0" x2="453.38" y2="660.3" stroke="#3c3c3c" stroke-width="1"/>
<g fill="#303030" font-size="10.3" text-anchor="end" class="tk">
<text x="40.4" y="379.50">100</text>
<text x="40.4" y="410.50"><tspan dy="0.7">7</tspan>5</text>
<text x="40.4" y="441.50"><tspan dy="0.7">5</tspan><tspan dy="-0.7">0</tspan></text>
<text x="40.4" y="472.50">2<tspan dy="0.7">5</tspan></text>
<text x="40.4" y="503.50">0</text>
<text x="40.4" y="534.50">2<tspan dy="0.7">5</tspan></text>
<rect x="24.41" y="530.60" width="3.9" height="1.25" fill="#303030"/>
<text x="40.4" y="565.50"><tspan dy="0.7">5</tspan><tspan dy="-0.7">0</tspan></text>
<rect x="24.41" y="561.60" width="3.9" height="1.25" fill="#303030"/>
<text x="40.4" y="596.50"><tspan dy="0.7">7</tspan>5</text>
<rect x="24.41" y="592.60" width="3.9" height="1.25" fill="#303030"/>
<text x="40.4" y="627.50">100</text>
<rect x="19.00" y="623.60" width="3.9" height="1.25" fill="#303030"/>
<text x="40.4" y="658.50">110</text>
<rect x="19.00" y="654.60" width="3.9" height="1.25" fill="#303030"/>
</g>
<text transform="translate(9.3 515.50) rotate(-90)" text-anchor="middle" font-size="10.8" fill="#303030" textLength="194.6" lengthAdjust="spacingAndGlyphs">Change in tumour volume from baseline (%)</text>
<text x="32.0" y="361.10" font-size="13.8" font-weight="bold" fill="#111" stroke="#111" style="stroke-width:0.35px" textLength="7.4" lengthAdjust="spacingAndGlyphs">B</text>
<text x="190.6" y="458.70" font-size="10.6" font-style="italic" fill="#303030" textLength="22.5" lengthAdjust="spacingAndGlyphs">EZH2</text>
<text x="213.6" y="454.40" font-size="7" font-style="italic" fill="#303030" textLength="7.8" lengthAdjust="spacingAndGlyphs">WT</text>
<text x="470.6" y="440.90" font-size="10.2" fill="#303030" style="stroke-width:0.12px" textLength="50.5" lengthAdjust="spacingAndGlyphs">Progressive</text>
<text x="470.6" y="454.30" font-size="10.2" fill="#303030" style="stroke-width:0.12px" textLength="30.6" lengthAdjust="spacingAndGlyphs">disease</text>
<text x="470.6" y="496.60" font-size="10.2" fill="#303030" style="stroke-width:0.12px" textLength="27" lengthAdjust="spacingAndGlyphs">Stable</text>
<text x="470.6" y="510.00" font-size="10.2" fill="#303030" style="stroke-width:0.12px" textLength="30.6" lengthAdjust="spacingAndGlyphs">disease</text>
<text x="470.6" y="563.70" font-size="10.2" fill="#303030" style="stroke-width:0.12px" textLength="28.5" lengthAdjust="spacingAndGlyphs">Partial</text>
<text x="470.6" y="577.40" font-size="10.2" fill="#303030" style="stroke-width:0.12px" textLength="38" lengthAdjust="spacingAndGlyphs">response</text>
<path d="M458 438.0C460.5 438.0 462 439.0 462 442.0V490.0C462 495.0 464 497.0 467 500.0C464 503.0 462 505.0 462 510.0V558.0C462 561.0 460.5 562.0 458 562.0" fill="none" stroke="#3c3c3c" stroke-width="1.2"/>
<text x="215.8" y="680.70" font-size="10.9" fill="#303030" textLength="68.4" lengthAdjust="spacingAndGlyphs">Patients (n=49)</text>
<rect x="59.2" y="22.8" width="6.6" height="6.6" fill="#7fae2b"/>
<path d="M59.2 36.6H66.1L62.65 43.9Z" fill="#168fc2"/>
<path d="M62.15 49.6L67 54.15L62.15 58.7L57.3 54.15Z" fill="#c8141c"/>
<text x="70.8" y="30.5" font-size="10.8" fill="#303030" textLength="239.7" lengthAdjust="spacingAndGlyphs">Best response of partial response or complete response</text>
<text x="70.8" y="44.1" font-size="10.8" fill="#303030" textLength="86.1" lengthAdjust="spacingAndGlyphs">Treatment ongoing</text>
<text x="70.8" y="57.8" font-size="10.8" fill="#303030" textLength="158.0" lengthAdjust="spacingAndGlyphs">Best response of progressive disease</text>
</svg></body></html>
